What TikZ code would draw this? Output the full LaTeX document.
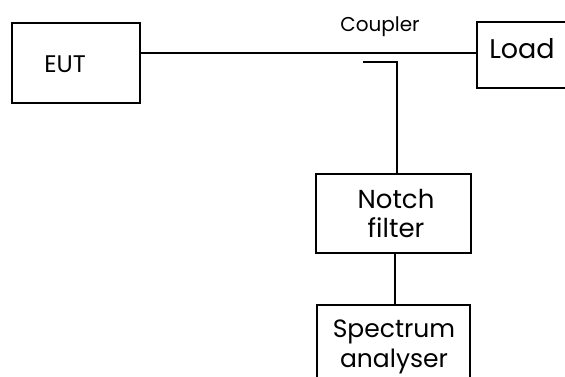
\documentclass[tikz,border=0pt]{standalone}
\usepackage{fontspec}
\setmainfont{Poppins}
\begin{document}
\begin{tikzpicture}[x=1pt,y=-1pt,
  wire/.style={line width=2pt},
  lbl/.style={inner sep=0pt,align=center}]
\useasboundingbox (0,0) rectangle (565,376);
\fill[white] (0,0) rectangle (565,376);
% EUT
\draw[wire] (12,23) rectangle (140,103);
\node[lbl,anchor=base,font=\fontsize{24}{28}\selectfont] (eut) at (65,72) {EUT};
\coordinate (eutE) at (140,53);
% Load
\draw[wire] (477,22) rectangle (600,88);
\node[lbl,anchor=base,font=\fontsize{27}{30}\selectfont] (load) at (522,58) {Load};
\coordinate (loadW) at (477,53);
% Coupler
\node[lbl,anchor=base,font=\fontsize{20}{22}\selectfont] (coupler) at (380,31) {Coupler};
\draw[wire] (eutE) -- (loadW);
\coordinate (stubA) at (363,62);
\coordinate (stubB) at (397,62);
% Notch
\draw[wire] (316,174) rectangle (471,253);
\node[lbl,font=\fontsize{26}{29}\selectfont] (notch) at (396,213) {Notch\\filter};
\coordinate (notchN) at (397,174);
\coordinate (notchS) at (395,253);
\draw[wire] (stubA) -- (stubB) -- (notchN);
% Spectrum
\draw[wire] (317,305) rectangle (470,400);
\node[lbl,font=\fontsize{25}{30}\selectfont] (spec) at (394,347) {Spectrum\\analyser};
\coordinate (specN) at (395,305);
\draw[wire] (notchS) -- (specN);
\end{tikzpicture}
\end{document}
